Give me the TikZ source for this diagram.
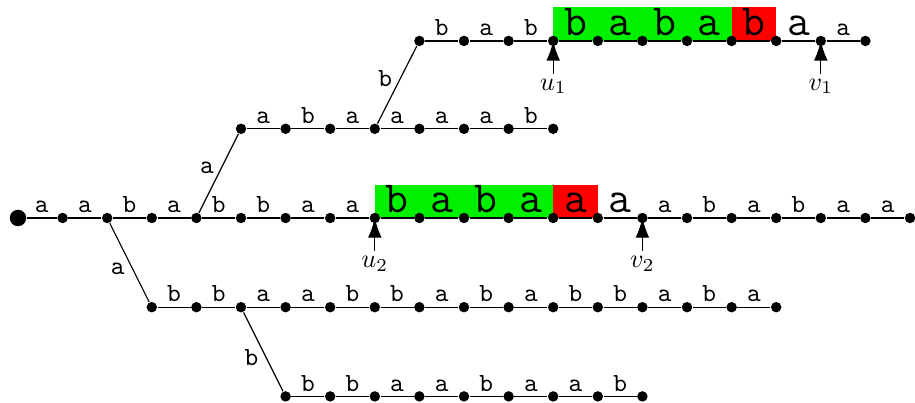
\documentclass[tikz,border=0pt]{standalone}
\usetikzlibrary{arrows.meta,backgrounds}

% large letters inside the highlighted factors
\newcommand\biglet[1]{{\fontsize{17}{17}\selectfont #1}}

% a horizontal chain of vertices: prefix, first index, row, edge letters
\newcommand\chain[4]{%
  \foreach \lt [count=\k from #2] in {#4} {%
    \pgfmathtruncatemacro\j{\k+1}%
    \node[vtx] (#1\j) at (\j,#3) {};
    \draw[link] (#1\k) -- node[lab]{\lt} (#1\j);
  }%
}

\tikzset{
  vtx/.style={circle,fill=black,inner sep=0pt,minimum size=4pt},
  rootvtx/.style={circle,fill=black,inner sep=0pt,minimum size=6.3pt},
  link/.style={line width=0.45pt},
  lab/.style={midway,anchor=base,yshift=2pt,inner sep=0pt,
              font=\ttfamily\fontsize{10}{10}\selectfont},
  uplab/.style={midway,inner sep=0pt,shift={(-4.5pt,2.3pt)},
                font=\ttfamily\fontsize{10}{10}\selectfont},
  downlab/.style={midway,inner sep=0pt,shift={(-4.5pt,-2.3pt)},
                  font=\ttfamily\fontsize{10}{10}\selectfont},
  pointer/.style={-{Latex[length=7.5pt,width=5.2pt]},line width=0.45pt},
  ptrlab/.style={anchor=north,inner sep=1.8pt},
  match/.style={fill={rgb,255:red,0;green,240;blue,0}},
  mismatch/.style={fill={rgb,255:red,255;green,0;blue,0}},
}

\begin{document}
\begin{tikzpicture}[x=0.6cm,y=0.6cm]
\useasboundingbox (-0.4036,-4.126) rectangle (20.112,4.888);

% main row from the root
\node[rootvtx] (m0) at (0,0) {};
\chain{m}{0}{0}{a,a,b,a,b,b,a,a,\biglet{b},\biglet{a},\biglet{b},\biglet{a},\biglet{a},\biglet{a},a,b,a,b,a,a}

% upper branch rows
\node[vtx] (p5) at (5,2) {};
\chain{p}{5}{2}{a,b,a,a,a,a,b}
\node[vtx] (q9) at (9,3.97) {};
\chain{q}{9}{3.97}{b,a,b,\biglet{b},\biglet{a},\biglet{b},\biglet{a},\biglet{b},\biglet{a},a}

% lower branch rows
\node[vtx] (r3) at (3,-2) {};
\chain{r}{3}{-2}{b,b,a,a,b,b,a,b,a,b,b,a,b,a}
\node[vtx] (s6) at (6,-4) {};
\chain{s}{6}{-4}{b,b,a,a,b,a,a,b}

% branching edges
\draw[link] (m2) -- node[downlab]{a} (r3);
\draw[link] (m4) -- node[uplab]{a} (p5);
\draw[link] (p8) -- node[uplab]{b} (q9);
\draw[link] (r5) -- node[downlab]{b} (s6);

% highlighted factors
\begin{scope}[on background layer]
  \fill[match] (m8.center) rectangle ([yshift=12.5pt]m12.center);
  \fill[mismatch] (m12.center) rectangle ([yshift=12.5pt]m13.center);
  \fill[match] (q12.center) rectangle ([yshift=12.8pt]q16.center);
  \fill[mismatch] (q16.center) rectangle ([yshift=12.8pt]q17.center);
\end{scope}

% pointers
\coordinate (tu1) at ([yshift=-12.5pt]q12.center);
\coordinate (tv1) at ([yshift=-12.5pt]q18.center);
\coordinate (tu2) at ([yshift=-12.8pt]m8.center);
\coordinate (tv2) at ([yshift=-12.8pt]m14.center);
\draw[pointer] (tu1) -- (q12.center);
\draw[pointer] (tv1) -- (q18.center);
\draw[pointer] (tu2) -- (m8.center);
\draw[pointer] (tv2) -- (m14.center);
\node[ptrlab] (lu1) at (tu1) {$u_1$};
\node[ptrlab] (lv1) at (tv1) {$v_1$};
\node[ptrlab] (lu2) at (tu2) {$u_2$};
\node[ptrlab] (lv2) at (tv2) {$v_2$};
\end{tikzpicture}
\end{document}
